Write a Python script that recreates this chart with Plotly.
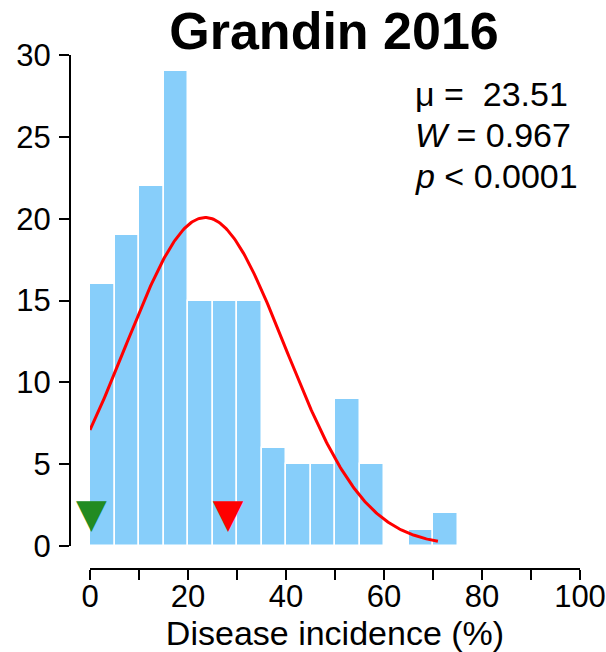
import numpy as np
import plotly.graph_objects as go

# ---- data ----
bin_left = [0, 5, 10, 15, 20, 25, 30, 35, 40, 45, 50, 55, 60, 65, 70]
counts = [16, 19, 22, 29, 15, 15, 15, 6, 5, 5, 9, 5, 0, 1, 2]
bin_width = 5
mu = 23.51
sd = 16.3
curve_max_x = 71
green_marker_x = [0.3]
red_marker_x = [28.2]
marker_y = [1.75]
x_ticks = [0, 10, 20, 30, 40, 50, 60, 70, 80, 90, 100]
x_tick_labels = ["0", "", "20", "", "40", "", "60", "", "80", "", "100"]
y_ticks = [0, 5, 10, 15, 20, 25, 30]
title = "Grandin 2016"
xlabel = "Disease incidence (%)"
stats_lines = ["\u03bc =\u00a0 23.51", "<i>W</i> = 0.967", "<i>p</i> < 0.0001"]

W, H = 606, 652
def px(x):
    return x / W
def py(y):
    return 1 - y / H

FONT = "Liberation Sans, Arial, sans-serif"

centers = [b + bin_width / 2 for b in bin_left]
n_total = sum(counts)
xc = np.linspace(0, curve_max_x, 300)
yc = n_total * bin_width * np.exp(-0.5 * ((xc - mu) / sd) ** 2) / (sd * np.sqrt(2 * np.pi))

fig = go.Figure()
fig.add_trace(go.Bar(x=centers, y=counts, width=bin_width,
                     marker=dict(color="#87CEFA", line=dict(color="white", width=1.5)),
                     hoverinfo="skip"))
fig.add_trace(go.Scatter(x=xc, y=yc, mode="lines", line=dict(color="red", width=3)))
fig.add_trace(go.Scatter(x=green_marker_x, y=marker_y, mode="text", cliponaxis=False,
                         text=["\u25bc"], textposition="middle center",
                         textfont=dict(size=40, color="#228B22", family="DejaVu Sans")))
fig.add_trace(go.Scatter(x=red_marker_x, y=marker_y, mode="text", cliponaxis=False,
                         text=["\u25bc"], textposition="middle center",
                         textfont=dict(size=40, color="red", family="DejaVu Sans")))

fig.update_layout(
    width=W, height=H, margin=dict(l=0, r=0, t=0, b=0, autoexpand=False),
    paper_bgcolor="white", plot_bgcolor="white", showlegend=False,
    bargap=0,
    font=dict(family=FONT, color="black"),
    title=dict(text="<b>" + title + "</b>", x=px(334), xanchor="center",
               y=py(31), yanchor="middle", font=dict(size=52, family=FONT), automargin=False),
    xaxis=dict(domain=[px(90), px(580)], range=[0, 100], anchor="free", position=py(569),
               automargin=False,
               showgrid=False, zeroline=False, showline=True, linecolor="black", linewidth=2,
               ticks="outside", ticklen=10, tickwidth=2, tickcolor="black",
               tickvals=x_ticks, ticktext=x_tick_labels, tickfont=dict(size=31),
               ticklabelstandoff=-10,
               title=dict(text=xlabel, font=dict(size=34), standoff=0)),
    yaxis=dict(domain=[py(546), py(55)], range=[0, 30], anchor="free", position=px(70),
               automargin=False,
               showgrid=False, zeroline=False, showline=True, linecolor="black", linewidth=2,
               ticks="outside", ticklen=10, tickwidth=2, tickcolor="black",
               tickvals=y_ticks, tickfont=dict(size=31), ticklabelstandoff=2),
)

for i, line in enumerate(stats_lines):
    fig.add_annotation(text=line, xref="paper", yref="paper", x=px(413), y=py(94 + 41 * i),
                       xanchor="left", yanchor="middle", showarrow=False,
                       font=dict(size=34, family=FONT))

fig.write_html("out.html", post_script="document.body.style.margin='0px';",
               config={"displayModeBar": False})
